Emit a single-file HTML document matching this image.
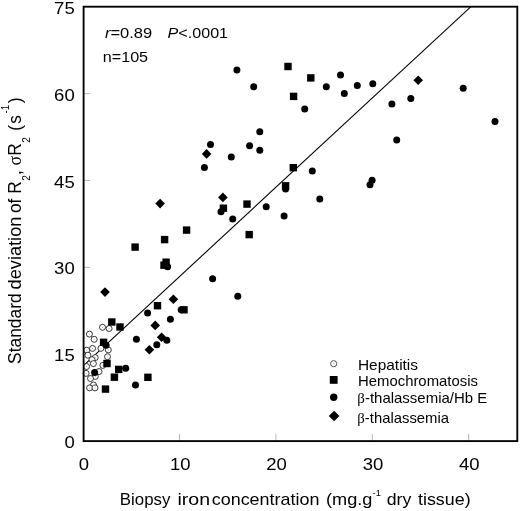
<!DOCTYPE html>
<html><head><meta charset="utf-8"><title>Scatter plot</title>
<style>
html,body{margin:0;padding:0;background:#fff;}
body{width:520px;height:511px;overflow:hidden;}
svg{display:block;will-change:transform;}
text{font-family:"Liberation Sans",sans-serif;fill:#000;}
</style></head><body>
<svg width="520" height="511" viewBox="0 0 520 511">
<rect x="0" y="0" width="520" height="511" fill="#fff"/>
<g stroke="#959595" stroke-width="0.7" fill="none">
<line x1="83.6" y1="354.2" x2="90.2" y2="354.2"/>
<line x1="83.6" y1="267.3" x2="90.2" y2="267.3"/>
<line x1="83.6" y1="180.5" x2="90.2" y2="180.5"/>
<line x1="83.6" y1="93.6" x2="90.2" y2="93.6"/>
<line x1="179.5" y1="441.1" x2="179.5" y2="434.1"/>
<line x1="275.9" y1="441.1" x2="275.9" y2="434.1"/>
<line x1="372.3" y1="441.1" x2="372.3" y2="434.1"/>
<line x1="468.7" y1="441.1" x2="468.7" y2="434.1"/>
</g>
<line x1="83.7" y1="365.3" x2="470.7" y2="6.9" stroke="#000" stroke-width="1.1"/>
<g fill="#fff" stroke="#222" stroke-width="0.9">
<circle cx="102.5" cy="327.3" r="3.0"/>
<circle cx="109.1" cy="328.5" r="3.0"/>
<circle cx="89.4" cy="334.1" r="3.0"/>
<circle cx="94.2" cy="339.3" r="3.0"/>
<circle cx="92.5" cy="348.4" r="3.0"/>
<circle cx="86.7" cy="350.2" r="3.0"/>
<circle cx="100.9" cy="348.3" r="3.0"/>
<circle cx="108.3" cy="349.9" r="3.0"/>
<circle cx="87.9" cy="355.2" r="3.0"/>
<circle cx="95.2" cy="357.6" r="3.0"/>
<circle cx="92.0" cy="359.7" r="3.0"/>
<circle cx="107.5" cy="356.7" r="3.0"/>
<circle cx="86.6" cy="366.5" r="3.0"/>
<circle cx="102.9" cy="365.4" r="3.0"/>
<circle cx="99.0" cy="371.5" r="3.0"/>
<circle cx="86.1" cy="373.4" r="3.0"/>
<circle cx="95.3" cy="376.4" r="3.0"/>
<circle cx="90.5" cy="378.5" r="3.0"/>
<circle cx="93.5" cy="385.0" r="3.0"/>
<circle cx="89.6" cy="387.9" r="3.0"/>
<circle cx="95.0" cy="387.9" r="3.0"/>
<circle cx="93.4" cy="363.6" r="3.0"/>
</g>
<g fill="#aaa">
<circle cx="102.5" cy="327.3" r="0.55"/>
<circle cx="109.1" cy="328.5" r="0.55"/>
<circle cx="89.4" cy="334.1" r="0.55"/>
<circle cx="94.2" cy="339.3" r="0.55"/>
<circle cx="92.5" cy="348.4" r="0.55"/>
<circle cx="86.7" cy="350.2" r="0.55"/>
<circle cx="100.9" cy="348.3" r="0.55"/>
<circle cx="108.3" cy="349.9" r="0.55"/>
<circle cx="87.9" cy="355.2" r="0.55"/>
<circle cx="95.2" cy="357.6" r="0.55"/>
<circle cx="92.0" cy="359.7" r="0.55"/>
<circle cx="107.5" cy="356.7" r="0.55"/>
<circle cx="86.6" cy="366.5" r="0.55"/>
<circle cx="102.9" cy="365.4" r="0.55"/>
<circle cx="99.0" cy="371.5" r="0.55"/>
<circle cx="86.1" cy="373.4" r="0.55"/>
<circle cx="95.3" cy="376.4" r="0.55"/>
<circle cx="90.5" cy="378.5" r="0.55"/>
<circle cx="93.5" cy="385.0" r="0.55"/>
<circle cx="89.6" cy="387.9" r="0.55"/>
<circle cx="95.0" cy="387.9" r="0.55"/>
<circle cx="93.4" cy="363.6" r="0.55"/>
</g>
<g fill="#000">
<path d="M418.2 75.5L423.0 80.3L418.2 85.1L413.4 80.3Z"/>
<path d="M160.1 198.8L164.9 203.6L160.1 208.4L155.3 203.6Z"/>
<path d="M206.6 149.1L211.4 153.9L206.6 158.7L201.8 153.9Z"/>
<path d="M222.9 192.6L227.7 197.4L222.9 202.2L218.1 197.4Z"/>
<path d="M105.0 287.3L109.8 292.1L105.0 296.9L100.2 292.1Z"/>
<path d="M173.4 294.4L178.2 299.2L173.4 304.0L168.6 299.2Z"/>
<path d="M155.2 320.6L160.0 325.4L155.2 330.2L150.4 325.4Z"/>
<path d="M161.6 332.4L166.4 337.2L161.6 342.0L156.8 337.2Z"/>
<path d="M149.4 344.9L154.2 349.7L149.4 354.5L144.6 349.7Z"/>
<rect x="284.3" y="62.8" width="7.4" height="7.4"/>
<rect x="289.9" y="92.7" width="7.4" height="7.4"/>
<rect x="307.1" y="74.2" width="7.4" height="7.4"/>
<rect x="289.6" y="164.0" width="7.4" height="7.4"/>
<rect x="281.9" y="182.1" width="7.4" height="7.4"/>
<rect x="219.7" y="204.5" width="7.4" height="7.4"/>
<rect x="243.3" y="200.4" width="7.4" height="7.4"/>
<rect x="182.9" y="226.4" width="7.4" height="7.4"/>
<rect x="160.9" y="235.9" width="7.4" height="7.4"/>
<rect x="131.4" y="243.4" width="7.4" height="7.4"/>
<rect x="162.4" y="258.5" width="7.4" height="7.4"/>
<rect x="160.3" y="261.5" width="7.4" height="7.4"/>
<rect x="153.8" y="302.0" width="7.4" height="7.4"/>
<rect x="180.3" y="306.1" width="7.4" height="7.4"/>
<rect x="108.1" y="318.3" width="7.4" height="7.4"/>
<rect x="116.3" y="323.3" width="7.4" height="7.4"/>
<rect x="245.5" y="230.9" width="7.4" height="7.4"/>
<rect x="99.9" y="338.6" width="7.4" height="7.4"/>
<rect x="103.3" y="359.8" width="7.4" height="7.4"/>
<rect x="115.0" y="365.7" width="7.4" height="7.4"/>
<rect x="110.7" y="373.5" width="7.4" height="7.4"/>
<rect x="101.8" y="385.4" width="7.4" height="7.4"/>
<rect x="144.2" y="373.6" width="7.4" height="7.4"/>
<circle cx="236.9" cy="70.0" r="3.5"/>
<circle cx="253.7" cy="86.8" r="3.5"/>
<circle cx="340.5" cy="75.1" r="3.5"/>
<circle cx="326.3" cy="86.8" r="3.5"/>
<circle cx="344.3" cy="93.6" r="3.5"/>
<circle cx="357.3" cy="85.5" r="3.5"/>
<circle cx="372.8" cy="83.7" r="3.5"/>
<circle cx="391.9" cy="104.0" r="3.5"/>
<circle cx="410.8" cy="98.4" r="3.5"/>
<circle cx="304.7" cy="109.0" r="3.5"/>
<circle cx="463.2" cy="88.3" r="3.5"/>
<circle cx="210.5" cy="144.4" r="3.5"/>
<circle cx="204.4" cy="167.5" r="3.5"/>
<circle cx="231.3" cy="157.1" r="3.5"/>
<circle cx="249.6" cy="145.7" r="3.5"/>
<circle cx="259.8" cy="131.7" r="3.5"/>
<circle cx="259.8" cy="150.3" r="3.5"/>
<circle cx="285.6" cy="189.0" r="3.5"/>
<circle cx="221.0" cy="211.8" r="3.5"/>
<circle cx="266.2" cy="206.7" r="3.5"/>
<circle cx="232.7" cy="219.0" r="3.5"/>
<circle cx="284.1" cy="216.1" r="3.5"/>
<circle cx="396.7" cy="139.9" r="3.5"/>
<circle cx="312.3" cy="170.9" r="3.5"/>
<circle cx="319.8" cy="198.9" r="3.5"/>
<circle cx="372.1" cy="180.2" r="3.5"/>
<circle cx="370.0" cy="184.7" r="3.5"/>
<circle cx="495.0" cy="121.4" r="3.5"/>
<circle cx="167.6" cy="266.7" r="3.5"/>
<circle cx="181.2" cy="309.8" r="3.5"/>
<circle cx="147.6" cy="313.0" r="3.5"/>
<circle cx="170.4" cy="319.2" r="3.5"/>
<circle cx="212.6" cy="278.8" r="3.5"/>
<circle cx="237.8" cy="296.2" r="3.5"/>
<circle cx="106.1" cy="345.2" r="3.5"/>
<circle cx="136.4" cy="339.2" r="3.5"/>
<circle cx="94.6" cy="372.6" r="3.5"/>
<circle cx="125.7" cy="368.2" r="3.5"/>
<circle cx="135.5" cy="385.1" r="3.5"/>
<circle cx="166.8" cy="340.3" r="3.5"/>
<circle cx="156.8" cy="344.7" r="3.5"/>
</g>
<rect x="83.6" y="6.7" width="433.7" height="434.4" fill="none" stroke="#000" stroke-width="1.85"/>
<text transform="translate(74.7,448.20) scale(1.180,1)" font-size="15.7" text-anchor="end">0</text>
<text transform="translate(74.7,361.32) scale(1.180,1)" font-size="15.7" text-anchor="end">15</text>
<text transform="translate(74.7,274.44) scale(1.180,1)" font-size="15.7" text-anchor="end">30</text>
<text transform="translate(74.7,187.56) scale(1.180,1)" font-size="15.7" text-anchor="end">45</text>
<text transform="translate(74.7,100.68) scale(1.180,1)" font-size="15.7" text-anchor="end">60</text>
<text transform="translate(74.7,13.80) scale(1.180,1)" font-size="15.7" text-anchor="end">75</text>
<text transform="translate(83.80,470) scale(1.180,1)" font-size="15.7" text-anchor="middle">0</text>
<text transform="translate(180.18,470) scale(1.180,1)" font-size="15.7" text-anchor="middle">10</text>
<text transform="translate(276.56,470) scale(1.180,1)" font-size="15.7" text-anchor="middle">20</text>
<text transform="translate(372.93,470) scale(1.180,1)" font-size="15.7" text-anchor="middle">30</text>
<text transform="translate(469.31,470) scale(1.180,1)" font-size="15.7" text-anchor="middle">40</text>
<text id="xt1" transform="translate(119.82,504.70) scale(1.0271,1)" font-size="16.4">Biopsy</text>
<text id="xt2" transform="translate(177.51,504.70) scale(1.1921,1)" font-size="16.4">iron</text>
<text id="xt3" transform="translate(211.75,504.70) scale(1.0938,1)" font-size="16.4">concentration</text>
<text id="xt4" transform="translate(325.99,504.70) scale(1.1075,1)" font-size="16.4">(mg.g</text>
<text id="xt5" transform="translate(372.53,496.00) scale(1.0759,1)" font-size="8.8">-1</text>
<text id="xt6" transform="translate(386.66,504.70) scale(1.0787,1)" font-size="16.4">dry</text>
<text id="xt7" transform="translate(418.03,504.70) scale(1.0894,1)" font-size="16.4">tissue)</text>
<text id="yt1" transform="translate(21.30,363.92) rotate(-90) scale(0.9656,1)" font-size="18">Standard</text>
<text id="yt2" transform="translate(21.30,289.46) rotate(-90) scale(1.0121,1)" font-size="18">deviation</text>
<text id="yt3" transform="translate(21.30,213.02) rotate(-90) scale(0.9641,1)" font-size="18">of R<tspan font-size="10.5" dy="8.5" dx="0.6">2</tspan><tspan dy="-8.5">, </tspan><tspan font-family="Liberation Serif" font-size="18.5">&#963;</tspan>R<tspan font-size="10.5" dy="8.5" dx="0.6">2</tspan><tspan dy="-8.5" dx="1"> </tspan><tspan dx="0.5">(</tspan><tspan dx="1.3">s</tspan><tspan font-size="10" dy="-12.3" dx="1.6">-1</tspan><tspan dy="12.3" dx="1.7">)</tspan></text>
<text id="a1" transform="translate(104.91,37.90) scale(1.1796,1)" font-size="14"><tspan font-style="italic">r</tspan>=0.89</text>
<text id="a2" transform="translate(167.62,37.90) scale(1.1515,1)" font-size="14"><tspan font-style="italic">P</tspan>&lt;.0001</text>
<text id="a3" transform="translate(102.73,62.10) scale(1.1553,1)" font-size="14">n=105</text>
<text id="l1" transform="translate(357.98,369.60) scale(1.1196,1)" font-size="13.8">Hepatitis</text>
<text id="l2" transform="translate(358.02,385.90) scale(1.0788,1)" font-size="13.8">Hemochromatosis</text>
<text id="l3" transform="translate(357.29,403.40) scale(1.0861,1)" font-size="13.8"><tspan font-family="Liberation Serif">&#946;</tspan>-thalassemia/Hb E</text>
<text id="l4" transform="translate(357.29,422.50) scale(1.0769,1)" font-size="13.8"><tspan font-family="Liberation Serif">&#946;</tspan>-thalassemia</text>
<circle cx="333.7" cy="363.7" r="3.1" fill="#fff" stroke="#555" stroke-width="1"/><circle cx="333.7" cy="363.7" r="0.6" fill="#aaa"/>
<rect x="329.8" y="376.0" width="7.8" height="7.8" fill="#000"/>
<circle cx="333.7" cy="397.2" r="3.7" fill="#000"/>
<path d="M334.1 410.7L339.4 416L334.1 421.3L328.8 416Z" fill="#000"/>
</svg>
</body></html>
